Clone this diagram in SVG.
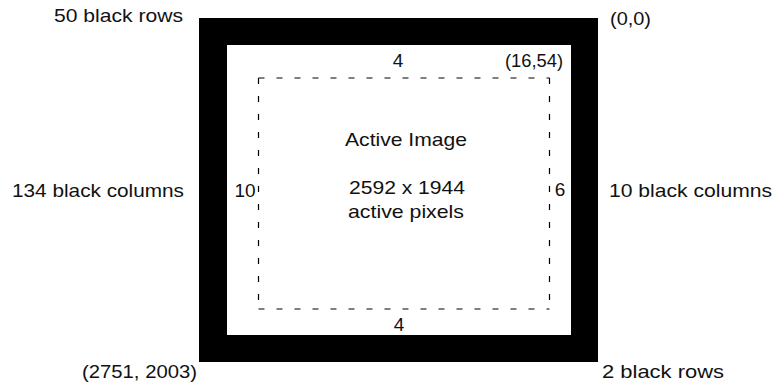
<svg xmlns="http://www.w3.org/2000/svg" width="773" height="385" viewBox="0 0 773 385">
<style>
.lbl{font-family:"Liberation Sans",Arial,Helvetica,sans-serif;font-size:19px;fill:#111}
.dash{fill:none;stroke:#000;stroke-width:1.2;stroke-dasharray:6 12}
</style>
<rect width="773" height="385" fill="#fff"/>
<g id="sensor">
<rect x="199" y="18" width="399" height="344" fill="#000"/>
<rect x="227" y="45" width="344" height="290" fill="#fff"/>
</g>
<g id="active-area">
<path class="dash" d="M258.5 78 H549.5"/>
<path class="dash" d="M258.5 309 H549.5"/>
<path class="dash" d="M258.5 78 V309"/>
<path class="dash" d="M549.5 78 V309"/>
</g>
<g id="outer-labels">
<text class="lbl" x="183" y="22" text-anchor="end" textLength="129" lengthAdjust="spacingAndGlyphs">50 black rows</text>
<text class="lbl" x="610" y="25" textLength="41" lengthAdjust="spacingAndGlyphs">(0,0)</text>
<text class="lbl" x="184" y="197" text-anchor="end" textLength="172" lengthAdjust="spacingAndGlyphs">134 black columns</text>
<text class="lbl" x="609" y="197" textLength="163" lengthAdjust="spacingAndGlyphs">10 black columns</text>
<text class="lbl" x="197" y="378" text-anchor="end" textLength="115" lengthAdjust="spacingAndGlyphs">(2751, 2003)</text>
<text class="lbl" x="602" y="378" textLength="122" lengthAdjust="spacingAndGlyphs">2 black rows</text>
</g>
<g id="inner-labels">
<text class="lbl" x="398" y="67" text-anchor="middle">4</text>
<text class="lbl" x="505" y="67" textLength="58" lengthAdjust="spacingAndGlyphs">(16,54)</text>
<text class="lbl" x="399" y="331" text-anchor="middle">4</text>
<text class="lbl" x="245" y="197" text-anchor="middle">10</text>
<text class="lbl" x="560" y="196" text-anchor="middle">6</text>
</g>
<g id="active-image">
<text class="lbl" x="406" y="146" text-anchor="middle" textLength="122" lengthAdjust="spacingAndGlyphs">Active Image</text>
<text class="lbl" x="407" y="194" text-anchor="middle" textLength="116" lengthAdjust="spacingAndGlyphs">2592 x 1944</text>
<text class="lbl" x="406" y="218" text-anchor="middle" textLength="116" lengthAdjust="spacingAndGlyphs">active pixels</text>
</g>
</svg>
